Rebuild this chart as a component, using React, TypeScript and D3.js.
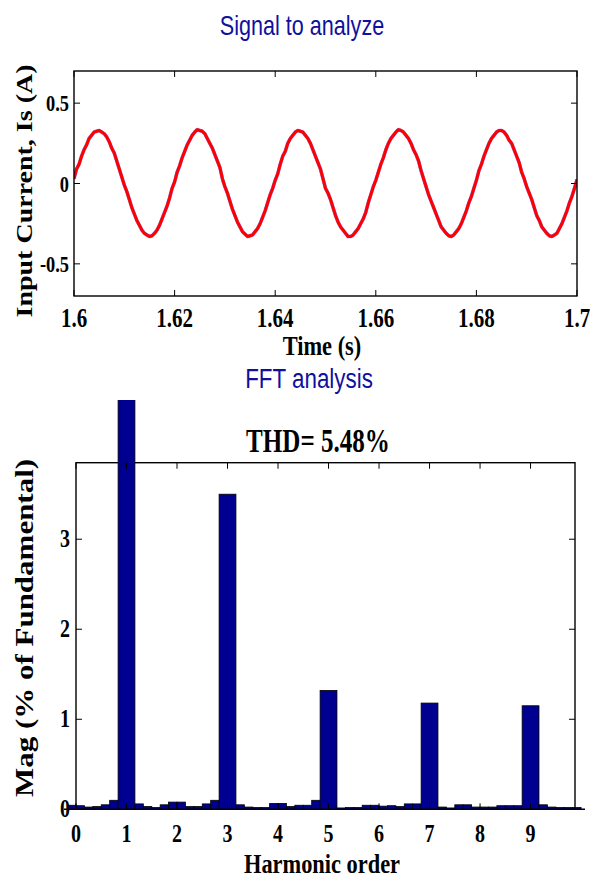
import React from "react";
import * as d3 from "d3";

// ---------- data ----------
const signalStart = 1.6;
const signalStep = 0.0005; // s between samples
const signalValues = [
  0.03, 0.09, 0.12, 0.17, 0.21, 0.24, 0.28, 0.3, 0.32, 0.325, 0.33, 0.32, 0.31, 0.29, 0.26, 0.22, 0.19, 0.14, 0.09, 0.04,
  -0.01, -0.05, -0.1, -0.15, -0.19, -0.23, -0.26, -0.29, -0.31, -0.32, -0.33, -0.325, -0.31, -0.29, -0.26, -0.22, -0.18, -0.14, -0.09, -0.03,
  0.01, 0.07, 0.11, 0.16, 0.2, 0.24, 0.27, 0.3, 0.32, 0.335, 0.33, 0.325, 0.31, 0.28, 0.25, 0.22, 0.18, 0.14, 0.1, 0.03,
  -0.02, -0.06, -0.11, -0.16, -0.2, -0.24, -0.27, -0.3, -0.315, -0.33, -0.325, -0.32, -0.3, -0.28, -0.25, -0.21, -0.17, -0.12, -0.07, -0.03,
  0.02, 0.06, 0.12, 0.17, 0.2, 0.25, 0.28, 0.3, 0.32, 0.33, 0.325, 0.32, 0.3, 0.28, 0.25, 0.21, 0.17, 0.13, 0.09, 0.03,
  -0.03, -0.06, -0.1, -0.15, -0.2, -0.24, -0.27, -0.29, -0.31, -0.33, -0.33, -0.32, -0.3, -0.28, -0.25, -0.22, -0.18, -0.12, -0.07, -0.02,
  0.02, 0.07, 0.12, 0.16, 0.21, 0.25, 0.28, 0.3, 0.32, 0.335, 0.33, 0.32, 0.3, 0.28, 0.25, 0.21, 0.18, 0.14, 0.08, 0.03,
  -0.02, -0.07, -0.11, -0.15, -0.19, -0.23, -0.27, -0.29, -0.31, -0.325, -0.33, -0.32, -0.3, -0.28, -0.25, -0.21, -0.17, -0.12, -0.08, -0.03,
  0.02, 0.08, 0.12, 0.17, 0.21, 0.25, 0.28, 0.3, 0.32, 0.33, 0.33, 0.32, 0.3, 0.27, 0.25, 0.21, 0.17, 0.13, 0.07, 0.03,
  -0.02, -0.06, -0.1, -0.15, -0.2, -0.23, -0.27, -0.29, -0.31, -0.325, -0.33, -0.32, -0.31, -0.28, -0.25, -0.21, -0.17, -0.12, -0.08, -0.03,
  0.025,
];
const timeTicks = [1.6, 1.62, 1.64, 1.66, 1.68, 1.7];
const currentTicks = [-0.5, 0, 0.5];

// FFT bins: width 1/6 harmonic, first bin starts at -1/6
const binsPerHarmonic = 6;
const firstBin = -1;
const binMag = [
  0.045, 0.04, 0.025, 0.03, 0.05, 0.1, 100, 100, 0.06, 0.03,
  0.02, 0.05, 0.08, 0.08, 0.03, 0.03, 0.06, 0.1, 3.5, 3.5,
  0.05, 0.025, 0.02, 0.02, 0.065, 0.065, 0.03, 0.045, 0.045, 0.1,
  1.32, 1.32, 0.015, 0.02, 0.02, 0.045, 0.045, 0.035, 0.04, 0.03,
  0.06, 0.06, 1.18, 1.18, 0.025, 0.015, 0.05, 0.05, 0.025, 0.025,
  0.025, 0.04, 0.04, 0.04, 1.15, 1.15, 0.05, 0.025, 0.02, 0.02,
  0.02,
];
const harmonicTicks = [0, 1, 2, 3, 4, 5, 6, 7, 8, 9];
const magTicks = [0, 1, 2, 3];
const thdText = "THD= 5.48%";

// ---------- layout ----------
const W = 590;
const H = 879;
const top1 = { left: 74, right: 577, top: 71, bottom: 296 };
const bot = { left: 76, right: 575, top: 462.7, bottom: 809.3 };
const blue = "#10109e";
const barFill = "#000090";
const serif = "'Liberation Serif', 'Times New Roman', serif";
const sans = "'Liberation Sans', Arial, sans-serif";

type TxtProps = {
  x: number;
  y: number;
  size: number;
  sx?: number;
  anchor?: string;
  rot?: boolean;
  family?: string;
  weight?: string | number;
  fill?: string;
  children: React.ReactNode;
};
function Txt({ x, y, size, sx = 0.8, anchor = "middle", rot = false, family = serif, weight = "bold", fill = "#000", children }: TxtProps) {
  const tr = rot
    ? `translate(${x},${y}) rotate(-90) scale(1,${sx})`
    : `translate(${x},${y}) scale(${sx},1)`;
  return (
    <text transform={tr} fontSize={size} fontFamily={family} fontWeight={weight} textAnchor={anchor} fill={fill}>
      {children}
    </text>
  );
}

export default function App() {
  // top chart scales
  const x1 = d3.scaleLinear().domain([1.6, 1.7]).range([top1.left, top1.right]);
  const y1 = d3.scaleLinear().domain([-0.7, 0.7]).range([top1.bottom, top1.top]);
  const pts: [number, number][] = signalValues.map((v, i) => [signalStart + i * signalStep, v]);
  const line = d3
    .line<[number, number]>()
    .x((d) => x1(d[0]))
    .y((d) => y1(d[1]));
  const path = line(pts) || "";

  // bottom chart scales
  const x2 = d3.scaleLinear().domain([0, 9.88]).range([bot.left, bot.right]);
  const y2 = d3.scaleLinear().domain([0, 3.85]).range([bot.bottom, bot.top]);

  // merge adjacent large bins into a single bar
  type Bar = { h0: number; h1: number; v: number };
  const bars: Bar[] = [];
  binMag.forEach((v, i) => {
    const h0 = (firstBin + i) / binsPerHarmonic;
    const h1 = h0 + 1 / binsPerHarmonic;
    const last = bars[bars.length - 1];
    if (last && v > 0.5 && last.v === v) last.h1 = h1;
    else bars.push({ h0, h1, v });
  });

  const tick = 6;

  return (
    <svg width={W} height={H} style={{ display: "block", position: "absolute", left: 0, top: 0 }}>
      <rect width={W} height={H} fill="#fff" />
      <defs>
        <clipPath id="barclip">
          <rect x={0} y={400} width={W} height={H - 400} />
        </clipPath>
        <clipPath id="sigclip">
          <rect x={top1.left} y={top1.top} width={top1.right - top1.left} height={top1.bottom - top1.top} />
        </clipPath>
      </defs>

      {/* ---------- top chart ---------- */}
      <Txt x={302} y={35} size={27} sx={0.8} family={sans} weight="normal" fill={blue}>
        Signal to analyze
      </Txt>
      <g clipPath="url(#sigclip)">
        <path d={path} fill="none" stroke="#9a7ae0" strokeWidth={3.6} strokeLinejoin="round" />
        <path d={path} fill="none" stroke="#ff0000" strokeWidth={3} strokeLinejoin="round" />
      </g>
      <rect x={top1.left} y={top1.top} width={top1.right - top1.left} height={top1.bottom - top1.top} fill="none" stroke="#000" strokeWidth={1.4} />
      {timeTicks.map((t) => (
        <g key={"xt" + t}>
          <line x1={x1(t)} x2={x1(t)} y1={top1.top} y2={top1.top + tick} stroke="#000" strokeWidth={1} />
          <line x1={x1(t)} x2={x1(t)} y1={top1.bottom} y2={top1.bottom - tick} stroke="#000" strokeWidth={1} />
          <Txt x={x1(t)} y={327} size={28} sx={0.75}>
            {String(t)}
          </Txt>
        </g>
      ))}
      {currentTicks.map((v) => (
        <g key={"yt" + v}>
          <line x1={top1.left} x2={top1.left + tick} y1={y1(v)} y2={y1(v)} stroke="#000" strokeWidth={1} />
          <line x1={top1.right} x2={top1.right - tick} y1={y1(v)} y2={y1(v)} stroke="#000" strokeWidth={1} />
          <Txt x={69} y={y1(v) + 8} size={23} sx={0.8} anchor="end">
            {String(v)}
          </Txt>
        </g>
      ))}
      <Txt x={322} y={355} size={28} sx={0.8}>
        Time (s)
      </Txt>
      <Txt x={32} y={191} size={28} sx={0.82} rot>
        Input Current, Is (A)
      </Txt>

      {/* ---------- bottom chart ---------- */}
      <Txt x={309} y={388} size={28} sx={0.8} family={sans} weight="normal" fill={blue}>
        FFT analysis
      </Txt>
      <Txt x={318} y={452} size={33} sx={0.76}>
        {thdText}
      </Txt>
      <rect x={bot.left} y={bot.top} width={bot.right - bot.left} height={bot.bottom - bot.top} fill="none" stroke="#000" strokeWidth={1.4} />
      <g clipPath="url(#barclip)">
        {bars.map((b, i) => (
          <rect
            key={"b" + i}
            x={x2(b.h0)}
            y={y2(b.v)}
            width={x2(b.h1) - x2(b.h0)}
            height={y2(0) - y2(b.v)}
            fill={barFill}
            stroke="#000"
            strokeWidth={0.8}
          />
        ))}
      </g>
      <line x1={bot.left - 12} x2={bot.right + 10} y1={bot.bottom} y2={bot.bottom} stroke="#000" strokeWidth={1.6} />
      {harmonicTicks.map((h) => (
        <g key={"ht" + h}>
          <line x1={x2(h)} x2={x2(h)} y1={bot.top} y2={bot.top + tick} stroke="#000" strokeWidth={1} />
          <line x1={x2(h)} x2={x2(h)} y1={bot.bottom} y2={bot.bottom - tick} stroke="#000" strokeWidth={1} />
          <Txt x={x2(h)} y={842} size={25} sx={0.8}>
            {String(h)}
          </Txt>
        </g>
      ))}
      {magTicks.map((m) => (
        <g key={"mt" + m}>
          <line x1={bot.left} x2={bot.left + tick} y1={y2(m)} y2={y2(m)} stroke="#000" strokeWidth={1} />
          <line x1={bot.right} x2={bot.right - tick} y1={y2(m)} y2={y2(m)} stroke="#000" strokeWidth={1} />
          <Txt x={70} y={y2(m) + 8} size={25} sx={0.8} anchor="end">
            {String(m)}
          </Txt>
        </g>
      ))}
      <Txt x={322} y={873} size={28} sx={0.8}>
        Harmonic order
      </Txt>
      <Txt x={33} y={628} size={31} sx={0.82} rot>
        Mag (% of Fundamental)
      </Txt>
    </svg>
  );
}
